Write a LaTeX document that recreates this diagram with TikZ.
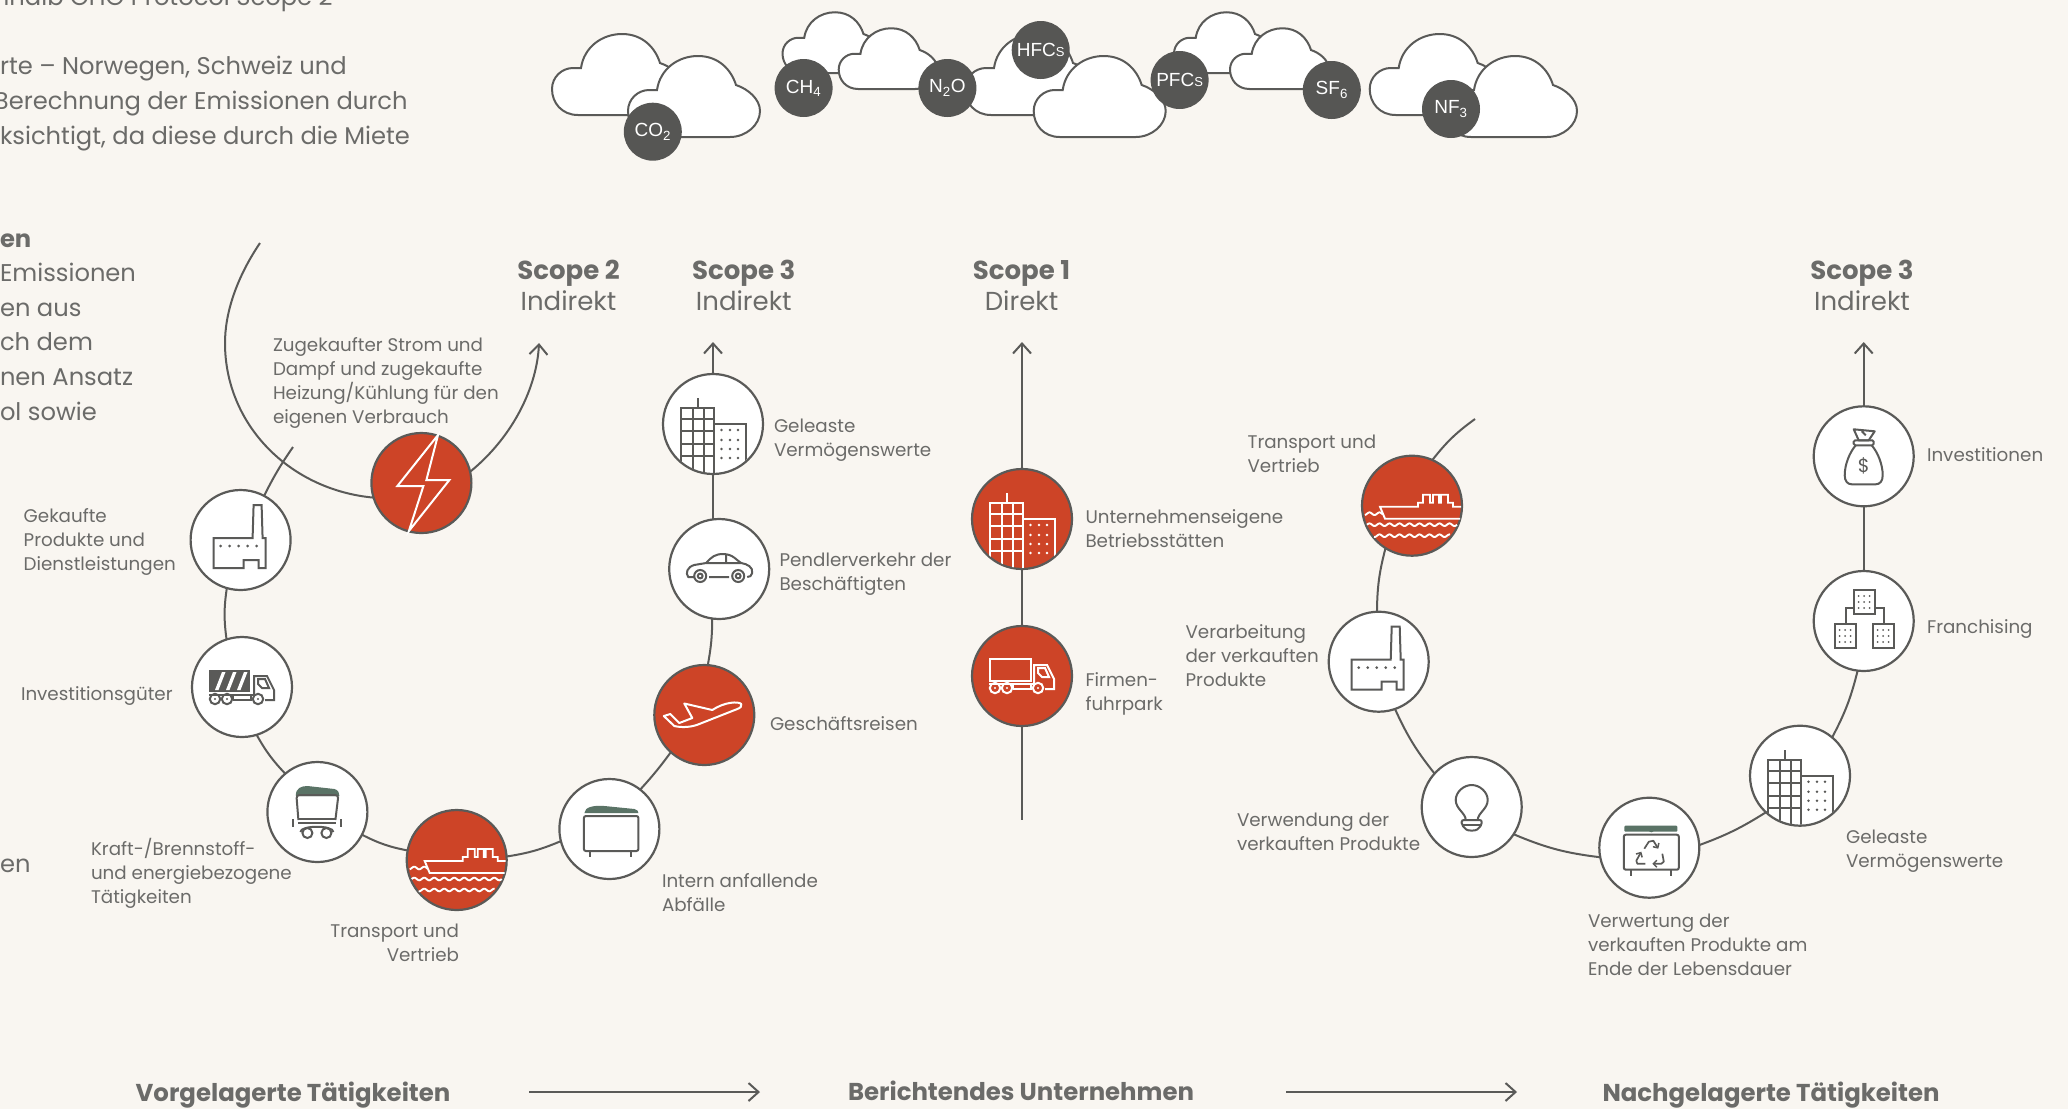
\documentclass[tikz,border=0pt]{standalone}
\usepackage{fontspec}
\setmainfont{Poppins}
\newfontfamily\gasfont{Liberation Sans}
\usetikzlibrary{arrows.meta}
\definecolor{paper}{HTML}{F9F6F1}
\definecolor{ink}{HTML}{5A5A58}
\definecolor{copy}{HTML}{6B6B69}
\definecolor{gasgrey}{HTML}{565654}
\definecolor{hot}{HTML}{CD4427}
\definecolor{lid}{HTML}{5A7366}
\tikzset{
  every node/.style={inner sep=0pt,outer sep=0pt},
  station/.style={circle,draw=ink,line width=2.2pt,fill=white,minimum size=100pt},
  hotstation/.style={station,fill=hot},
  gas/.style={circle,fill=gasgrey,text=white,minimum size=58pt,font=\gasfont\fontsize{19}{20}\selectfont},
  cloudshape/.style={draw=ink,line width=2pt,fill=white},
  wire/.style={draw=ink,line width=2pt},
  wirearrow/.style={wire,-{Straight Barb[length=10pt,width=18pt,line width=2pt]}},
  lbl/.style={text=copy,align=left,anchor=west,font=\fontsize{18.3}{24}\selectfont},
  lblr/.style={text=copy,align=right,anchor=east,font=\fontsize{18.3}{24}\selectfont},
  body/.style={text=copy,anchor=base west,font=\fontsize{24.2}{30}\selectfont},
  scopename/.style={text=copy,font=\bfseries\fontsize{26}{30}\selectfont},
  scopekind/.style={text=copy,font=\fontsize{26}{30}\selectfont},
  flowname/.style={text=copy,font=\bfseries\fontsize{24.4}{28}\selectfont},
  ic/.style={line width=2pt,line join=miter},
}
% cloud: #1 left, #2 bottom, #3 scale
\newcommand\cloudat[3]{%
  \path[cloudshape,shift={(#1,#2)},scale=#3]
    (26,0) .. controls (10,0) and (0,-12) .. (0,-26)
    .. controls (0,-38) and (10,-47) .. (21,-47) -- (29,-47)
    .. controls (32,-68) and (50,-81) .. (70,-81)
    .. controls (90,-81) and (103,-68) .. (108,-52)
    .. controls (120,-48) and (132,-38) .. (132,-26)
    .. controls (132,-12) and (118,0) .. (102,0) -- cycle;}
\newcommand\icoBuild[2]{\begin{scope}[shift={(#1)},ic,draw=#2,fill=#2]
  \begin{scope}
  \clip (0,0) circle[radius=49pt];
  \draw[fill=none] (-32,60) -- (-32,-16) -- (1,-16) -- (1,60);
  \draw (-20,-16) -- (-20,60) (-9,-16) -- (-9,60) (-15,-16) -- (-15,-26);
  \draw (-32,-5) -- (1,-5) (-32,7) -- (1,7) (-32,20) -- (1,20) (-32,32) -- (1,32);
  \draw[fill=none] (1,0) -- (33,0) -- (33,60);
  \foreach \yy in {6,16,25,34}{\foreach \xx in {8.5,17,25}{\fill (\xx,\yy) circle[radius=1.4pt];}}
  \end{scope}
\end{scope}}
\newcommand\icoFactory[2]{\begin{scope}[shift={(#1)},ic,draw=#2,fill=#2]
  \draw[fill=none] (-27,-2) -- (12,-2) -- (13,-35) -- (21,-35) -- (22,-2) -- (25,-2) -- (25,28) -- (18,28) -- (18,20) -- (3,20) -- (3,28) -- (-27,28) -- cycle;
  \foreach \xx in {-20,-11,-2,7,16}{\fill (\xx,6) circle[radius=1.5pt];}
\end{scope}}
\newcommand\icoCab[2]{\begin{scope}[shift={(#1)},ic,draw=#2]
  \draw (12,8) -- (12,-11) -- (25,-11) -- (32,3) -- (32,13) -- (23,13);
  \draw (16,-8) -- (23,-8) -- (27,1) -- (20,1) -- (16,-3) -- cycle;
  \draw (-33,8) -- (12,8) (-9,13) -- (9,13) -- (9,8) (-9,13) -- (-9,8);
  \foreach \xx in {-27,-15,16}{\draw (\xx,12) circle[radius=5.2pt];\fill[#2] (\xx,12) circle[radius=1.2pt];}
\end{scope}}
\newcommand\icoLorry[2]{\begin{scope}[shift={(#1)},ic,draw=#2]
  \draw (-32.5,-17) rectangle (8.8,5);
\end{scope}\icoCab{#1}{#2}}
\newcommand\icoTipper[2]{\begin{scope}[shift={(#1)},ic]
  \fill[#2] (-33,-17) rectangle (8,5);
  \foreach \xx in {-27,-16,-5}{\fill[white] (\xx,3) -- (\xx+3.5,3) -- (\xx+10.5,-15) -- (\xx+7,-15) -- cycle;}
\end{scope}\icoCab{#1}{#2}}
\newcommand\icoPlane[2]{\begin{scope}[shift={(#1)},ic,draw=#2]
  \draw[line join=round] (37,-11) .. controls (34,-14) and (20,-13) .. (8,-5) -- (-20,-11.5) -- (-12,3) -- (-25,8) -- (-34,-1) -- (-40.5,1) -- (-30,11) .. controls (-22,13) and (-12,12) .. (-5,9) -- (33,-6) .. controls (36,-7) and (38,-9) .. (37,-11) -- cycle;
\end{scope}}
\newcommand\icoCar[2]{\begin{scope}[shift={(#1)},ic,draw=#2]
  \draw[line join=round] (-25,8) -- (-31,8) .. controls (-34,4) and (-32,-2) .. (-25,-4) -- (-13,-6)
    .. controls (-8,-12) and (-4,-15) .. (4,-15) .. controls (14,-15) and (18,-8) .. (22,-6)
    .. controls (28,-5) and (34,-2) .. (33,4) .. controls (33,7) and (30,8) .. (28,8)
    (10,8) -- (-10,8) (-13,-6) -- (22,-6) (7,-15) -- (7,-6);
  \foreach \xx in {-19,19}{\draw (\xx,7) circle[radius=6pt];\draw (\xx,7) circle[radius=2.4pt];}
\end{scope}}
\newcommand\icoShip[2]{\begin{scope}[shift={(#1)},ic,draw=#2,line width=1.9pt]
  \draw (48,13) -- (-27,13) -- (-32,1) -- (6,1) -- (6,-3) -- (11,-3) -- (11,-11) -- (18,-11) -- (18,-3) -- (21,-3) -- (21,-11) -- (27,-11) -- (27,-3) -- (29,-3) -- (29,-11) -- (36,-11) -- (36,-3) -- (41,-3) -- (41,1) -- (49,1);
  \draw plot[domain=-47:-29,samples=30] (\x,{8+1.3*sin(\x*36)});
  \draw plot[domain=-45:45,samples=120] (\x,{19+1.3*sin(\x*36)});
  \draw plot[domain=-38:38,samples=100] (\x,{30+1.3*sin(\x*36)});
\end{scope}}
\newcommand\icoBolt[2]{\begin{scope}[shift={(#1)},ic,draw=#2]
  \draw[line join=miter] (16.6,-48) -- (-24,3) -- (2,3) -- (-12.5,48) -- (28,-3) -- (5,-3) -- cycle;
\end{scope}}
\newcommand\icoBin[2]{\begin{scope}[shift={(#1)},ic,draw=#2]
  \fill[lid] (-25,-16) .. controls (-25,-22) and (-15,-24) .. (-5,-23) -- (25,-20) .. controls (28,-19) and (29,-18) .. (29,-16) -- cycle;
  \draw[rounded corners=2pt] (-25.5,-13) -- (-25.5,22) -- (29,22) -- (29,-13) -- cycle;
  \draw (-19,22) -- (-19,28) (22,22) -- (22,28);
\end{scope}}
\newcommand\icoRecycle[2]{\begin{scope}[shift={(#1)},ic,draw=#2]
  \fill[lid,rounded corners=1pt] (-25,-22) rectangle (28,-16);
  \fill[lid] (2,-18) circle[radius=2.6pt];
  \draw[rounded corners=2pt] (-25.5,-13) -- (-25.5,22) -- (29.5,22) -- (29.5,-13) -- cycle;
  \draw (-18,22) -- (-18,28) (22,22) -- (22,28);
  \begin{scope}[line width=1.7pt,line join=round,-{Straight Barb[length=3.5pt,width=7pt,line width=1.5pt]}]
    \draw (-5,1) -- (-0.5,-6) -- (4,-7) -- (9,1);
    \draw (13,6) -- (14.5,14) -- (12,16) -- (3,16);
    \draw (-4,16) -- (-12,16) -- (-13,13) -- (-8,4);
  \end{scope}
\end{scope}}
\newcommand\icoWagon[2]{\begin{scope}[shift={(#1)},ic,draw=#2]
  \fill[lid] (-21.5,-16) .. controls (-22,-24) and (-16,-26) .. (-10,-26) -- (17,-23) .. controls (21,-22) and (22,-19) .. (22,-16) -- cycle;
  \draw[rounded corners=3pt] (-19,8) -- (-21,-17) -- (21,-17) -- (18,8);
  \draw (-19,7) -- (18,7) (-19,11) -- (19,11) (-24,7) -- (-24,15) (24,7) -- (24,15);
  \draw (-17,20) .. controls (-17,13) and (16,13) .. (16,20);
  \draw (-10,21) circle[radius=5pt] (9,21) circle[radius=5pt];
\end{scope}}
\newcommand\icoBulb[2]{\begin{scope}[shift={(#1)},ic,draw=#2]
  \draw (-6,13) .. controls (-6,6) and (-16,2) .. (-16,-7) .. controls (-16,-15) and (-8,-22) .. (0,-22) .. controls (8,-22) and (16,-15) .. (16,-7) .. controls (16,2) and (6,6) .. (6,13);
  \draw[rounded corners=2pt] (-10,13) -- (10,13) -- (10,18) -- (7,21) .. controls (4,24) and (-4,24) .. (-7,21) -- (-10,18) -- cycle;
  \draw (-10,17.5) -- (10,17.5);
\end{scope}}
\newcommand\icoBag[2]{\begin{scope}[shift={(#1)},ic,draw=#2]
  \draw[line join=round] (-10,-27) -- (11,-25) -- (5,-16) -- (-5,-16) -- cycle (-2,-25) -- (2,-21);
  \draw[rounded corners=1.5pt] (-10,-16) rectangle (10,-11);
  \draw[line join=round] (-8,-11) .. controls (-14,-4) and (-19,8) .. (-19,19) .. controls (-19,25) and (-16,28) .. (-12,28) -- (12,28) .. controls (16,28) and (19,25) .. (19,19) .. controls (19,8) and (14,-4) .. (8,-11);
  \node[text=#2,font=\fontsize{19}{19}\selectfont] at (0,9.5) {\$};
\end{scope}}
\newcommand\franchbox[3]{% x y colour
  \draw (#1,#2) rectangle ++(21,24);
  \foreach \dx in {5,10.5,16}{\foreach \dy in {6,12,18}{\fill[#3] (#1+\dx,#2+\dy) circle[radius=1pt];}}}
\newcommand\icoFranch[2]{\begin{scope}[shift={(#1)},ic,draw=#2,line width=1.8pt]
  \franchbox{-10}{-31}{#2}\franchbox{-29}{3}{#2}\franchbox{9}{3}{#2}
  \draw (-10,-13) -- (-18,-13) -- (-18,3) (11,-13) -- (20,-13) -- (20,3);
\end{scope}}
\begin{document}
\begin{tikzpicture}[x=1pt,y=-1pt]
\useasboundingbox (0,0) rectangle (2068,1109);
\fill[paper] (0,0) rectangle (2068,1109);
\clip (0,0) rectangle (2068,1109);

% cropped body text
\node[body] (t1) at (-6,5.6) {nhalb GHG Protocol Scope 2};
\node[body] (t2) at (0,74.8) {rte – Norwegen, Schweiz und};
\node[body] (t3) at (-6,109.4) {Berechnung der Emissionen durch};
\node[body] (t4) at (0,144) {ksichtigt, da diese durch die Miete};
\node[body,font=\bfseries\fontsize{24.2}{30}\selectfont] (t5) at (0,247) {en};
\node[body] (t6) at (0,281.5) {Emissionen};
\node[body] (t7) at (0,316) {en aus};
\node[body] (t8) at (0,350.7) {ch dem};
\node[body] (t9) at (0,385.3) {nen Ansatz};
\node[body] (t10) at (0,420) {ol sowie};
\node[body] (t11) at (0,872.5) {en};

% clouds
\cloudat{552}{115}{1}
\cloudat{628}{137}{1}
\cloudat{782.5}{73}{.75}
\cloudat{838.7}{89}{.75}
\cloudat{965}{115}{1}
\cloudat{1033.7}{137}{1}
\cloudat{1174}{73}{.75}
\cloudat{1230}{89}{.75}
\cloudat{1369.7}{115}{1}
\cloudat{1445}{137}{1}
\node[gas] (co2) at (652.8,131.7) {CO\textsubscript{2}};
\node[gas] (ch4) at (803.6,88) {CH\textsubscript{4}};
\node[gas] (n2o) at (947.4,88) {N\textsubscript{2}O};
\node[gas] (hfc) at (1040.7,50) {HFC{\fontsize{13}{14}\selectfont S}};
\node[gas] (pfc) at (1179.6,80) {PFC{\fontsize{13}{14}\selectfont S}};
\node[gas] (sf6) at (1331.8,90) {SF\textsubscript{6}};
\node[gas] (nf3) at (1451,109) {NF\textsubscript{3}};

% scope headings
\node[scopename] (s2) at (568.5,273.5) {Scope 2};
\node[scopekind] (s2k) at (568.5,301) {Indirekt};
\node[scopename] (s3) at (743.8,273.5) {Scope 3};
\node[scopekind] (s3k) at (743.8,301) {Indirekt};
\node[scopename] (s1) at (1021.5,273.5) {Scope 1};
\node[scopekind] (s1k) at (1021.5,301) {Direkt};
\node[scopename] (s3b) at (1862,273.5) {Scope 3};
\node[scopekind] (s3bk) at (1862,301) {Indirekt};

% stations
\node[hotstation] (elec) at (421.4,483) {};
\node[station] (gek) at (240.6,540) {};
\node[station] (inv) at (242,687) {};
\node[station] (kraft) at (317.4,812) {};
\node[hotstation] (shipa) at (456.7,860) {};
\node[station] (abf) at (609.4,829) {};
\node[hotstation] (plane) at (704.3,715) {};
\node[station] (car) at (719.2,569) {};
\node[station] (leasa) at (713,424) {};
\node[hotstation] (own) at (1022,519) {};
\node[hotstation] (fleet) at (1022,676) {};
\node[hotstation] (shipb) at (1412,505.7) {};
\node[station] (fact) at (1378.7,661.7) {};
\node[station] (bulb) at (1471.7,807) {};
\node[station] (rec) at (1649.3,847.7) {};
\node[station] (leasb) at (1800,775.7) {};
\node[station] (fran) at (1863.7,621) {};
\node[station] (bag) at (1863.7,456.3) {};

% free ends of connectors
\coordinate (arcstart) at (260,243);
\coordinate (arcleft) at (225,343);
\coordinate (tipa) at (539,343);
\coordinate (gekend) at (293,447);
\coordinate (tipb) at (713,342);
\coordinate (tipc) at (1022,342);
\coordinate (cend) at (1022,820);
\coordinate (shipend) at (1475,419);
\coordinate (tipd) at (1863.7,342);
\coordinate (flow1a) at (529,1092);
\coordinate (flow1b) at (760,1092);
\coordinate (flow2a) at (1286,1092);
\coordinate (flow2b) at (1517,1092);

% connectors
\draw[wire] (arcstart) .. controls (235,280) and (225,315) .. (arcleft)
   .. controls (225,425) and (290,490) .. (elec.197);
\draw[wirearrow] (elec.13) .. controls (515,435) and (537,385) .. (tipa);
\draw[wire] (gek.62) to[bend left=4] (gekend);
\draw[wire] (gek.254) to[bend right=8] (inv.108);
\draw[wire] (inv.287) to[bend right=7] (kraft.130);
\draw[wire] (kraft.333) to[bend right=8] (shipa.169);
\draw[wire] (shipa.4.5) to[bend right=7] (abf.194.5);
\draw[wire] (abf.52) to[bend right=3] (plane.228);
\draw[wire] (plane.86) to[bend right=5] (car.262.5);
\draw[wire] (car.north -| leasa) -- (leasa);
\draw[wirearrow] (leasa) -- (tipb);
\draw[wire] (own) -- (fleet);
\draw[wirearrow] (own) -- (tipc);
\draw[wire] (fleet) -- (cend);
\draw[wire] (shipb.66) to[bend left=8] (shipend);
\draw[wire] (shipb.238) to[bend right=7] (fact.92);
\draw[wire] (fact.289) to[bend right=7] (bulb.138);
\draw[wire] (bulb.327) to[bend right=8] (rec.191.5);
\draw[wire] (rec.3) to[bend right=6] (leasb.227);
\draw[wire] (leasb.50) to[bend right=7] (fran.263);
\draw[wire] (fran) -- (bag);
\draw[wirearrow] (bag) -- (tipd);
\draw[wirearrow] (flow1a) -- (flow1b);
\draw[wirearrow] (flow2a) -- (flow2b);

% icons
\icoBolt{elec}{white}
\icoFactory{gek}{ink}
\icoTipper{inv}{ink}
\icoWagon{kraft}{ink}
\icoShip{shipa}{white}
\icoBin{abf}{ink}
\icoPlane{plane}{white}
\icoCar{car}{ink}
\icoBuild{leasa}{ink}
\icoBuild{own}{white}
\icoLorry{fleet}{white}
\icoShip{shipb}{white}
\icoFactory{fact}{ink}
\icoBulb{bulb}{ink}
\icoRecycle{rec}{ink}
\icoBuild{leasb}{ink}
\icoFranch{fran}{ink}
\icoBag{bag}{ink}

% labels
\node[lbl] (l1) at (273,383) {Zugekaufter Strom und\\Dampf und zugekaufte\\Heizung/Kühlung für den\\eigenen Verbrauch};
\node[lbl] (l2) at (23.7,541.5) {Gekaufte\\Produkte und\\Dienstleistungen};
\node[lbl] (l3) at (21,695.5) {Investitionsgüter};
\node[lbl] (l4) at (91,873) {Kraft-/Brennstoff-\\und energiebezogene\\Tätigkeiten};
\node[lblr] (l5) at (459,943) {Transport und\\Vertrieb};
\node[lbl] (l6) at (662,893) {Intern anfallende\\Abfälle};
\node[lbl] (l7) at (770,724) {Geschäftsreisen};
\node[lbl] (l8) at (779.5,574) {Pendlerverkehr der\\Beschäftigten};
\node[lbl] (l9) at (774,440) {Geleaste\\Vermögenswerte};
\node[lbl] (l10) at (1085.5,529) {Unternehmenseigene\\Betriebsstätten};
\node[lbl] (l11) at (1085.5,694) {Firmen-\\fuhrpark};
\node[lbl] (l12) at (1247.6,454) {Transport und\\Vertrieb};
\node[lbl] (l13) at (1185.6,656) {Verarbeitung\\der verkauften\\Produkte};
\node[lbl] (l14) at (1237,832) {Verwendung der\\verkauften Produkte};
\node[lbl] (l15) at (1588,945) {Verwertung der\\verkauften Produkte am\\Ende der Lebensdauer};
\node[lbl] (l16) at (1846,851) {Geleaste\\Vermögenswerte};
\node[lbl] (l17) at (1927,455) {Investitionen};
\node[lbl] (l18) at (1927,629) {Franchising};

% flow names
\node[flowname] (f1) at (293,1095) {Vorgelagerte Tätigkeiten};
\node[flowname] (f2) at (1021,1091) {Berichtendes Unternehmen};
\node[flowname] (f3) at (1771,1095) {Nachgelagerte Tätigkeiten};
\end{tikzpicture}
\end{document}
